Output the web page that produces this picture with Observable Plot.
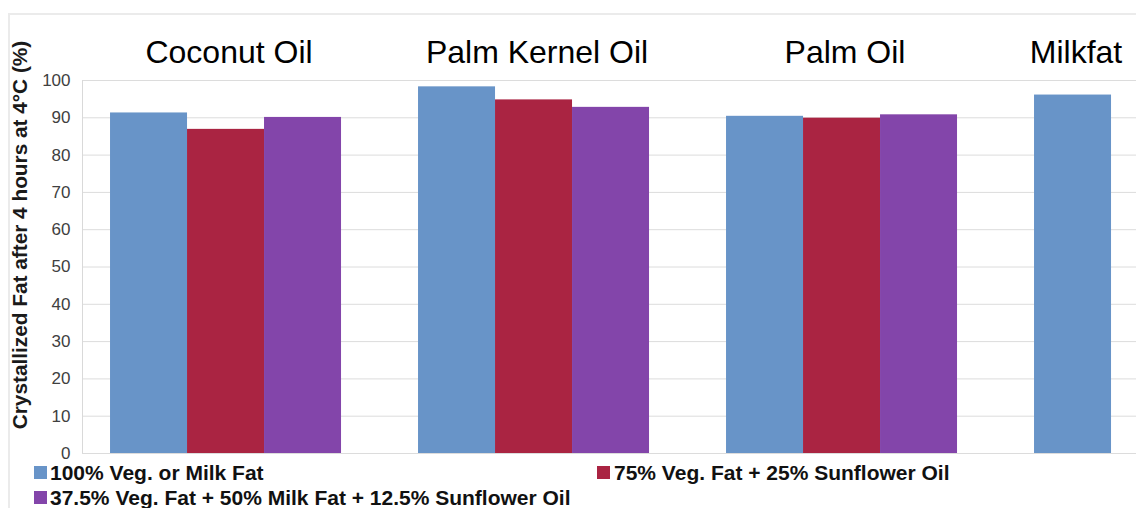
<!DOCTYPE html>
<html><head><meta charset="utf-8">
<script src="https://cdn.jsdelivr.net/npm/d3@7"></script>
<script src="https://cdn.jsdelivr.net/npm/@observablehq/plot@0.6"></script>
<style>
html,body{margin:0;padding:0;background:#fff;overflow:hidden;width:1136px;height:508px}
#wrap{position:relative;width:1136px;height:508px;overflow:hidden;font-family:"Liberation Sans",Arial,Helvetica,sans-serif}
#border{position:absolute;left:8px;top:13px;right:-4px;bottom:-4px;border-top:2px solid #ebebeb;border-left:2px solid #ebebeb}
#axisline{position:absolute;left:82px;top:80px;width:1px;height:373px;background:#d9d9d9}
#chart{position:absolute;left:0;top:0}
#chart svg{overflow:hidden}
#ylabel{position:absolute;left:20px;top:235px;transform:translate(-50%,-50%) rotate(-90deg);white-space:nowrap;font-weight:bold;font-size:20.8px;color:#1a1a1a;line-height:1}
.sw{position:absolute;width:13px;height:13px}
.lt{position:absolute;font-weight:bold;font-size:21px;white-space:nowrap;color:#111;line-height:1}
</style>
</head><body>
<div id="wrap">
  <div id="border"></div>
  <div id="chart"></div>
  <div id="axisline"></div>
  <div id="ylabel"></div>
  <div id="legend"></div>
</div>
<script>
const categories = ["Coconut Oil", "Palm Kernel Oil", "Palm Oil", "Milkfat"];
const seriesNames = [
  "100% Veg. or Milk Fat",
  "75% Veg. Fat + 25% Sunflower Oil",
  "37.5% Veg. Fat + 50% Milk Fat + 12.5% Sunflower Oil"
];
const seriesColors = ["#6894c8", "#aa2442", "#8345aa"];
const pureFat = [91.3, 98.3, 90.4, 96.1];
const vegSunflower = [86.9, 94.8, 89.9, null];
const vegMilkSunflower = [90.1, 92.8, 90.8, null];
const yTicks = [0, 10, 20, 30, 40, 50, 60, 70, 80, 90, 100];
const titleAnchorSeries = [1, 1, 1, 0];
const yLabel = "Crystallized Fat after 4 hours at 4°C (%)";

const seriesValues = [pureFat, vegSunflower, vegMilkSunflower];
const rows = [];
categories.forEach((c, i) => {
  seriesNames.forEach((s, j) => {
    const v = seriesValues[j][i];
    if (v != null) rows.push({category: c, series: s, value: v});
  });
});
const titles = categories.map((c, i) => ({category: c, anchor: seriesNames[titleAnchorSeries[i]]}));

const W = 1136, H = 508, ML = 82, MT = 80, MB = 55, STEP = 308;
const chart = Plot.plot({
  width: W, height: H,
  marginTop: MT, marginBottom: MB, marginLeft: ML, marginRight: 0,
  style: {fontFamily: '"Liberation Sans", Arial, Helvetica, sans-serif', background: "transparent"},
  fx: {domain: categories, range: [ML, ML + categories.length * STEP], padding: 0, round: false, axis: null},
  x: {domain: seriesNames, paddingInner: 0, paddingOuter: 0.5, align: 0.364, round: false, axis: null},
  y: {domain: [0, 100], axis: null},
  color: {domain: seriesNames, range: seriesColors},
  marks: [
    Plot.gridY(yTicks, {stroke: "#dcdcdc", strokeOpacity: 1, strokeWidth: 1}),
    Plot.barY(rows, {fx: "category", x: "series", y: "value", fill: "series", inset: 0}),
    Plot.axisY(yTicks, {tickSize: 0, tickPadding: 12, fontSize: 17, fill: "#404040", label: null}),
    Plot.text(titles, {fx: "category", x: "anchor", text: "category", frameAnchor: "top", dy: -40, dx: 3, fontSize: 32, fill: "#000"})
  ]
});
document.getElementById("chart").appendChild(chart);
document.getElementById("ylabel").textContent = yLabel;

const legendPos = [{sx: 34, sy: 466, tx: 50, ty: 462}, {sx: 597, sy: 466, tx: 614, ty: 462}, {sx: 34, sy: 491, tx: 50, ty: 487}];
const leg = document.getElementById("legend");
seriesNames.forEach((s, i) => {
  const p = legendPos[i];
  const sw = document.createElement("div");
  sw.className = "sw"; sw.style.left = p.sx + "px"; sw.style.top = p.sy + "px"; sw.style.background = seriesColors[i];
  const t = document.createElement("div");
  t.className = "lt"; t.style.left = p.tx + "px"; t.style.top = p.ty + "px"; t.textContent = s;
  leg.appendChild(sw); leg.appendChild(t);
});
</script>
</body></html>
